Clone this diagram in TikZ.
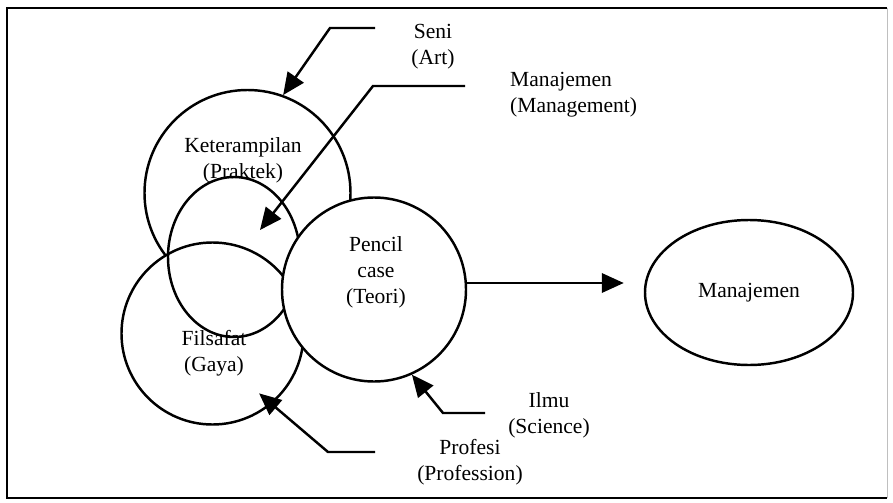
\documentclass[tikz,border=0pt]{standalone}
\usepackage{fontspec}
\setmainfont{Liberation Serif}
\usepackage{tikz}
\usetikzlibrary{arrows.meta,positioning,shapes.geometric}

\begin{document}
\begin{tikzpicture}[
  x=0.03cm,y=-0.03cm,
  every node/.style={font=\fontsize{18.4}{22.2}\selectfont},
  ring/.style={draw,circle,line width=2.1pt,inner sep=0pt},
  oval/.style={draw,ellipse,line width=2.1pt,inner sep=0pt},
  lbl/.style={align=center,inner sep=0pt},
  arr/.style={-{Triangle[length=6.6mm,width=5.8mm]},line width=2.1pt}
]
  \useasboundingbox (0,0) rectangle (893,503);
  \draw[line width=1.6pt] (887,8) -- (7,8) -- (7,498) -- (887,498);
  \draw[black!25] (887,8) -- (887,498);
  % circles
  \node[ring,minimum size=6.18cm] (kete) at (247.5,193) {};
  \node[ring,fill=white,minimum size=5.46cm] (fils) at (212.5,333.5) {};
  \node[oval,minimum width=3.96cm,minimum height=4.8cm] (mid) at (234,257) {};
  \node[ring,fill=white,minimum size=5.52cm] (pencil) at (374,289.5) {};
  \node[oval,minimum width=6.24cm,minimum height=4.35cm] (manaj) at (749,292.5) {Manajemen};
  % labels
  \node[lbl] (ketelbl) at (243,160) {Keterampilan\\(Praktek)};
  \node[lbl] (seni) at (433,46.5) {Seni\\(Art)};
  \node[lbl,align=left,anchor=west] (mgmt) at (510,95) {Manajemen\\(Management)};
  \node[lbl] (teori) at (376,272) {Pencil\\case\\(Teori)};
  \node[lbl] (gaya) at (214,353) {Filsafat\\(Gaya)};
  \node[lbl] (ilmu) at (549,415) {Ilmu\\(Science)};
  \node[lbl] (profesi) at (470,462) {Profesi\\(Profession)};
  % arrows
  \coordinate (seniA) at (375,28);
  \coordinate (seniB) at (330,28);
  \coordinate (mgmtA) at (465,86);
  \coordinate (mgmtB) at (373,86);
  \coordinate (mgmtTip) at (260,230);
  \coordinate (ilmuA) at (485,413);
  \coordinate (ilmuB) at (443,413);
  \coordinate (profA) at (375,452);
  \coordinate (profB) at (328,452);
  \draw[arr] (seniA) -- (seniB) -- (kete.70);
  \draw[arr] (mgmtA) -- (mgmtB) -- (mgmtTip);
  \draw[arr] (ilmuA) -- (ilmuB) -- (pencil.-66);
  \draw[arr,shorten >=-5mm] (profA) -- (profB) -- (fils.-50);
  \draw[arr,shorten >=6mm] (pencil.4) -- (pencil.4 -| manaj.west);
\end{tikzpicture}
\end{document}
